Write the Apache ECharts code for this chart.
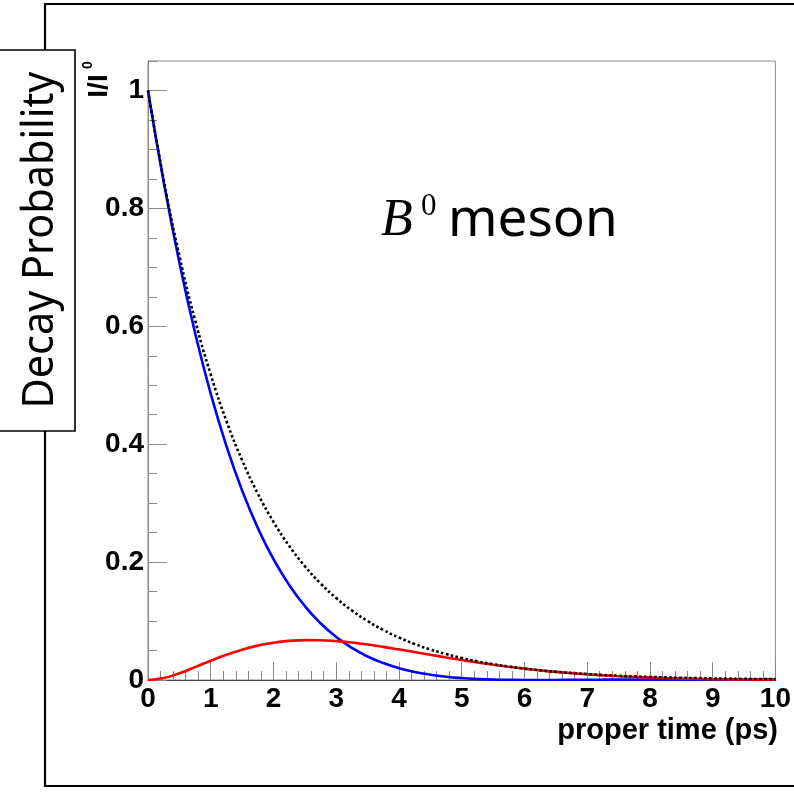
<!DOCTYPE html>
<html>
<head>
<meta charset="utf-8">
<script src="https://cdn.jsdelivr.net/npm/echarts@6/dist/echarts.min.js"></script>
<style>
html,body{margin:0;padding:0;background:#fff;}
#chart{width:794px;height:794px;}
</style>
</head>
<body>
<div id="chart"></div>
<script>
// proper time (ps)
const times = [0,0.25,0.5,0.75,1,1.25,1.5,1.75,2,2.25,2.5,2.75,3,3.25,3.5,3.75,4,4.25,4.5,4.75,5,5.25,5.5,5.75,6,6.25,6.5,6.75,7,7.25,7.5,7.75,8,8.25,8.5,8.75,9,9.25,9.5,9.75,10];
// total decay (black dotted)
const totalDecay = [1,0.8484,0.7197,0.6106,0.5180,0.4394,0.3728,0.3163,0.2683,0.2276,0.1931,0.1638,0.1390,0.1179,0.1000,0.0849,0.0720,0.0611,0.0518,0.0440,0.0373,0.0316,0.0268,0.0228,0.0193,0.0164,0.0139,0.0118,0.0100,0.0085,0.0072,0.0061,0.0052,0.0044,0.0037,0.0032,0.0027,0.0023,0.0019,0.0016,0.0014];
// unmixed (blue)
const unmixed = [1,0.8449,0.7082,0.5888,0.4854,0.3968,0.3214,0.2580,0.2050,0.1613,0.1254,0.0963,0.0729,0.0544,0.0399,0.0287,0.0201,0.0137,0.0090,0.0056,0.0033,0.0018,0.0008,0.0003,0.0001,0.0000,0.0001,0.0002,0.0004,0.0006,0.0008,0.0009,0.0010,0.0011,0.0011,0.0011,0.0011,0.0011,0.0011,0.0010,0.0009];
// mixed (red)
const mixed = [0,0.0034,0.0115,0.0218,0.0326,0.0427,0.0514,0.0583,0.0633,0.0664,0.0677,0.0675,0.0660,0.0635,0.0601,0.0562,0.0519,0.0474,0.0428,0.0383,0.0340,0.0298,0.0260,0.0225,0.0193,0.0164,0.0138,0.0116,0.0096,0.0079,0.0064,0.0052,0.0042,0.0033,0.0026,0.0020,0.0015,0.0012,0.0009,0.0006,0.0005];

const pairs = arr => times.map((t, i) => [t, arr[i]]);

const chart = echarts.init(document.getElementById('chart'), null, {renderer: 'canvas'});
const tickColor = '#888';
const labelFont = {fontFamily: '"Liberation Sans", Arial, sans-serif', fontWeight: 'bold', fontSize: 28, color: '#000'};

chart.setOption({
  animation: false,
  backgroundColor: '#fff',
  grid: {left: 148, right: 18, top: 61, bottom: 114, show: true, borderColor: '#8a8a8a', borderWidth: 1},
  xAxis: {
    type: 'value', min: 0, max: 10, interval: 1,
    axisLine: {show: true, onZero: false, lineStyle: {color: '#444', width: 1}},
    axisTick: {show: true, inside: true, length: 18, lineStyle: {color: tickColor}},
    minorTick: {show: true, splitNumber: 5, length: 9, lineStyle: {color: tickColor}},
    splitLine: {show: false},
    axisLabel: Object.assign({margin: 5}, labelFont)
  },
  yAxis: [{
    type: 'value', min: 0, max: 1.05, interval: 0.2,
    axisLine: {show: true, lineStyle: {color: '#888', width: 1}},
    axisTick: {show: true, inside: true, length: 19, lineStyle: {color: tickColor}},
    splitLine: {show: false},
    axisLabel: Object.assign({margin: 4, showMaxLabel: false, formatter: v => (Math.abs(v - 1.05) < 1e-6 ? '' : String(+v.toFixed(2)))}, labelFont)
  }, {
    type: 'value', min: 0, max: 1.05, interval: 0.05, position: 'left',
    axisLine: {show: false},
    axisTick: {show: true, inside: true, length: 9, lineStyle: {color: tickColor}},
    splitLine: {show: false},
    axisLabel: {show: false}
  }],
  series: [
    {type: 'line', data: pairs(unmixed), showSymbol: false, smooth: true,
     lineStyle: {color: '#0000ff', width: 2.6}, z: 3},
    {type: 'line', data: pairs(mixed), showSymbol: false, smooth: true,
     lineStyle: {color: '#ff0000', width: 2.6}, z: 4},
    {type: 'line', data: pairs(totalDecay), showSymbol: false, smooth: true,
     lineStyle: {color: '#000', width: 2.6, type: [2.6, 2.4]}, z: 5}
  ],
  graphic: [
    {type: 'rect', shape: {x: 45, y: 4, width: 800, height: 782}, style: {fill: 'none', stroke: '#000', lineWidth: 2.2}, z: 0},
    {type: 'rect', shape: {x: -3, y: 50, width: 78, height: 381}, style: {fill: '#fff', stroke: '#000', lineWidth: 1.6}, z: 1},
    {type: 'text', x: 40, y: 240, rotation: Math.PI / 2, scaleX: 0.94,
     style: {text: 'Decay Probability', fontFamily: '"Noto Sans", sans-serif', fontSize: 44, fill: '#000', align: 'center', verticalAlign: 'middle'}, z: 2},
    {type: 'text', x: 99, y: 86, rotation: Math.PI / 2,
     style: {text: 'I/I', fontFamily: '"Liberation Sans", Arial, sans-serif', fontWeight: 'bold', fontSize: 28, fill: '#000', align: 'center', verticalAlign: 'middle'}, z: 2},
    {type: 'text', x: 88, y: 65, rotation: Math.PI / 2,
     style: {text: '0', fontFamily: '"Liberation Sans", Arial, sans-serif', fontWeight: 'bold', fontSize: 14, fill: '#000', align: 'center', verticalAlign: 'middle'}, z: 2},
    {type: 'text', x: 778, y: 731,
     style: {text: 'proper time (ps)', fontFamily: '"Liberation Sans", Arial, sans-serif', fontWeight: 'bold', fontSize: 29, fill: '#000', align: 'right', verticalAlign: 'middle'}, z: 2},
    {type: 'text', x: 381, y: 221,
     style: {text: 'B', fontFamily: '"Liberation Serif", "DejaVu Serif", serif', fontStyle: 'italic', fontSize: 52, fill: '#000', align: 'left', verticalAlign: 'middle'}, z: 2},
    {type: 'text', x: 421, y: 207,
     style: {text: '0', fontFamily: '"Liberation Serif", "DejaVu Serif", serif', fontSize: 31, fill: '#000', align: 'left', verticalAlign: 'middle'}, z: 2},
    {type: 'text', x: 448, y: 221,
     style: {text: 'meson', fontFamily: '"Noto Sans", sans-serif', fontSize: 53, fill: '#000', align: 'left', verticalAlign: 'middle'}, z: 2}
  ]
});
</script>
</body>
</html>
